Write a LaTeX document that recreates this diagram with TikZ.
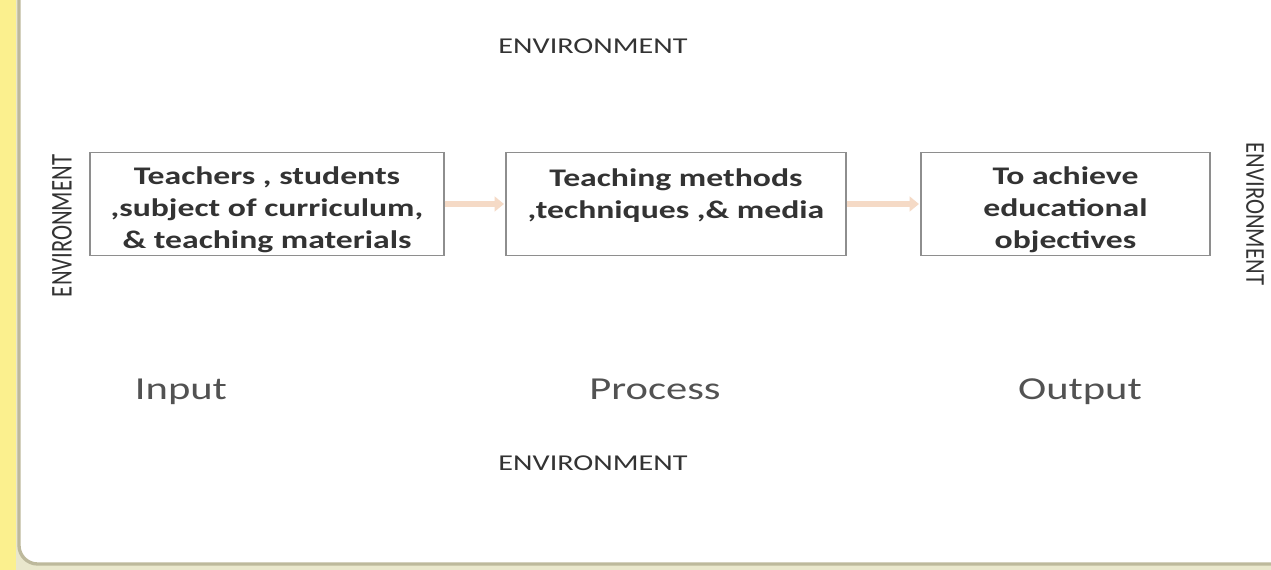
\documentclass[tikz,border=0pt]{standalone}
\usepackage{fontspec}
\setmainfont{Carlito}
\newfontfamily\widefont[FakeStretch=1.33]{Carlito}
\usetikzlibrary{arrows.meta}
\definecolor{framebg}{HTML}{E9E7CC}
\definecolor{stripyellow}{HTML}{FBF08E}
\definecolor{panelline}{HTML}{BDB99C}
\definecolor{boxline}{HTML}{8E8E8E}
\definecolor{txt}{HTML}{333333}
\definecolor{peach}{HTML}{F5DAC6}
\tikzset{
  stagebox/.style={draw=boxline, line width=1.1pt, fill=white, inner sep=0pt,
    minimum height=77.25pt, align=center, text=txt,
    font=\widefont\bfseries\fontsize{19}{24}\selectfont},
  boxtext/.style={inner sep=0pt, align=center, text=txt,
    font=\widefont\bfseries\fontsize{19}{24}\selectfont},
  envlabel/.style={text=txt, inner sep=0pt},
  stagelabel/.style={text=txt!85, inner sep=0pt, anchor=base, font=\widefont\fontsize{24}{28}\selectfont},
  flow/.style={draw=peach, line width=3.8pt, -{Triangle[length=7pt,width=11pt]}, shorten >=1pt}
}
\begin{document}
\begin{tikzpicture}[x=0.75pt,y=-0.75pt]
\useasboundingbox (0,0) rectangle (1271,570);
% frame
\fill[framebg] (0,0) rectangle (1271,570);
\fill[stripyellow] (0,0) rectangle (16,570);
\fill[white, draw=panelline, line width=2.5pt, rounded corners=14pt] (19,-30) rectangle (1300,564);
\fill[white] (21,-30) rectangle (1300,-2);
% boxes
\node[stagebox, minimum width=265.5pt] (input) at (267,204) {};
\node[stagebox, minimum width=255pt] (process) at (676,204) {};
\node[stagebox, minimum width=216.75pt] (output) at (1065.5,204) {};
\node[boxtext] (inputtext) at ([yshift=-4pt]input.center)
  {Teachers , students\\,subject of curriculum,\\\& teaching materials};
\node[boxtext] (processtext) at ([yshift=-4pt]process.center)
  {Teaching methods\\,techniques ,\& media\\\mbox{}};
\node[boxtext] (outputtext) at ([yshift=-4pt]output.center)
  {To achieve\\educational\\objectives};
% connectors
\draw[flow] (input.east) -- (process.west);
\draw[flow] (process.east) -- (output.west);
% environment labels
\node[envlabel, font=\widefont\fontsize{17}{17}\selectfont] (envtop) at (593,46) {ENVIRONMENT};
\node[envlabel, font=\widefont\fontsize{17}{17}\selectfont] (envbot) at (593,463) {ENVIRONMENT};
\node[envlabel, rotate=90] (envleft) at (62,226)
  {\scalebox{1}[1.33]{\fontsize{17}{17}\selectfont ENVIRONMENT}};
\node[envlabel, rotate=-90] (envright) at (1255,214)
  {\scalebox{1}[1.2]{\fontsize{17}{17}\selectfont ENVIRONMENT}};
% stage labels
\node[stagelabel] (lin) at (181,399) {Input};
\node[stagelabel] (lproc) at (655,399) {Process};
\node[stagelabel] (lout) at (1080,399) {Output};
\end{tikzpicture}
\end{document}
